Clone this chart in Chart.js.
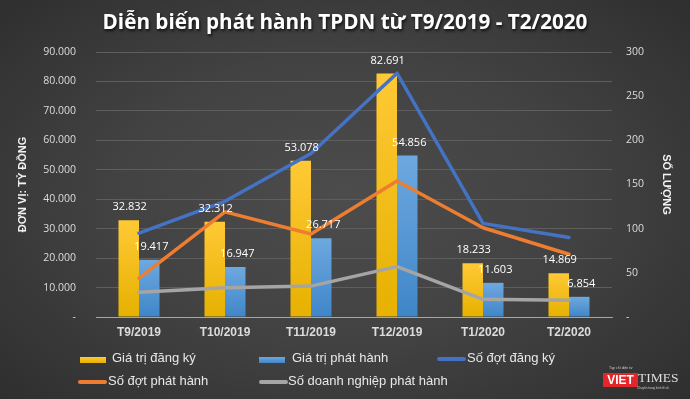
<!DOCTYPE html>
<html><head><meta charset="utf-8">
<script src="https://cdn.jsdelivr.net/npm/chart.js@4"></script>
<style>
html,body{margin:0;padding:0;}
body{width:690px;height:399px;overflow:hidden;position:relative;
 background:radial-gradient(ellipse 75% 80% at 50% 50%, #4c4c4c 0%, #424242 45%, #2b2b2b 100%);
 font-family:"Liberation Sans",Arial,sans-serif;}
canvas{position:absolute;left:0;top:0;}
#title{position:absolute;left:0;top:7px;width:690px;text-align:center;color:#fff;font:bold 20.7px "Open Sans";line-height:28px;text-shadow:1px 2px 3px rgba(0,0,0,.75);}
.lt{position:absolute;color:#e8e8e8;font-size:13px;line-height:16px;white-space:nowrap;}
.lb{position:absolute;height:6px;width:26px;}
.ll{position:absolute;height:4px;border-radius:2px;width:29px;}
</style></head>
<body>
<canvas id="c" width="690" height="399"></canvas>
<div id="title">Diễn biến phát hành TPDN từ T9/2019 - T2/2020</div>

<div class="lb" style="left:80px;top:357px;background:linear-gradient(#ffc936,#e6b100)"></div>
<div class="lt" style="left:112px;top:350px">Giá trị đăng ký</div>
<div class="lb" style="left:259px;top:357px;background:linear-gradient(#6ea8df,#3f86c8)"></div>
<div class="lt" style="left:292px;top:350px">Giá trị phát hành</div>
<div class="ll" style="left:437px;top:357px;background:#4472c4"></div>
<div class="lt" style="left:467px;top:350px">Số đợt đăng ký</div>
<div class="ll" style="left:78px;top:380px;background:#ed7d31"></div>
<div class="lt" style="left:108px;top:373px">Số đợt phát hành</div>
<div class="ll" style="left:259px;top:380px;background:#a5a5a5"></div>
<div class="lt" style="left:288px;top:373px">Số doanh nghiệp phát hành</div>

<div style="position:absolute;left:609px;top:366px;font-size:3.5px;line-height:4px;color:#ccc;white-space:nowrap">Tạp chí điện tử</div>
<div style="position:absolute;left:603px;top:373px;width:35px;height:14px;background:#e3262a;color:#fff;font:bold 12px 'Liberation Sans';line-height:14px;text-align:center">VIET</div>
<div style="position:absolute;left:638px;top:371px;color:#ddd;font:13.5px 'Liberation Serif';line-height:14px;white-space:nowrap">TIMES</div>
<div style="position:absolute;left:637px;top:386px;font-size:3px;line-height:4px;color:#ccc;white-space:nowrap">Chuyên trang kinh tế số</div>

<script>
const categories = ['T9/2019','T10/2019','T11/2019','T12/2019','T1/2020','T2/2020'];
const giaTriDangKy = [32832, 32312, 53078, 82691, 18233, 14869];
const giaTriPhatHanh = [19417, 16947, 26717, 54856, 11603, 6854];
const soDotDangKy = [95, 131, 185, 276, 106, 90];
const soDotPhatHanh = [44, 119, 94, 154, 101, 71];
const soDoanhNghiepPhatHanh = [28, 33, 35, 57, 20, 19];
const seriesNames = ['Giá trị đăng ký','Giá trị phát hành','Số đợt đăng ký','Số đợt phát hành','Số doanh nghiệp phát hành'];
const leftAxisTitle = 'ĐƠN VỊ: TỶ ĐỒNG';
const rightAxisTitle = 'SỐ LƯỢNG';

function fmt(v){ v = Number(v); if (v === 0) return '-'; return String(Math.round(v)).replace(/\B(?=(\d{3})+(?!\d))/g, '.'); }

function barGrad(top, bottom){
  return (ctx) => {
    const chart = ctx.chart; const a = chart.chartArea;
    if (!a || ctx.raw == null) return bottom;
    const y = chart.scales.y.getPixelForValue(ctx.raw);
    const g = chart.ctx.createLinearGradient(0, y, 0, a.bottom);
    g.addColorStop(0, top); g.addColorStop(1, bottom);
    return g;
  };
}

const barLabels = {
  id: 'barLabels',
  afterDatasetsDraw(chart){
    const c = chart.ctx; c.save();
    c.font = '11px "Open Sans"'; c.fillStyle = '#ffffff';
    c.textAlign = 'center'; c.textBaseline = 'middle';
    [0,1].forEach(di => {
      const meta = chart.getDatasetMeta(di);
      meta.data.forEach((el, i) => {
        c.fillText(fmt(chart.data.datasets[di].data[i]), el.x + (di === 1 ? 2 : 1), el.y - 13);
      });
    });
    c.restore();
  }
};

const tickFont = {family: 'Open Sans', size: 10.5};

new Chart(document.getElementById('c'), {
  data: {
    labels: categories,
    datasets: [
      {type:'bar', label: seriesNames[0], data: giaTriDangKy, yAxisID:'y', order:4,
       backgroundColor: barGrad('#ffc936','#e6b100'), barPercentage:1, categoryPercentage:0.477},
      {type:'bar', label: seriesNames[1], data: giaTriPhatHanh, yAxisID:'y', order:5,
       backgroundColor: barGrad('#6ea8df','#3f86c8'), barPercentage:1, categoryPercentage:0.477},
      {type:'line', label: seriesNames[2], data: soDotDangKy, yAxisID:'y1', order:3,
       borderColor:'#4472c4', borderWidth:3.5, pointRadius:0, tension:0, borderCapStyle:'round', borderJoinStyle:'round'},
      {type:'line', label: seriesNames[3], data: soDotPhatHanh, yAxisID:'y1', order:2,
       borderColor:'#ed7d31', borderWidth:3.5, pointRadius:0, tension:0, borderCapStyle:'round', borderJoinStyle:'round'},
      {type:'line', label: seriesNames[4], data: soDoanhNghiepPhatHanh, yAxisID:'y1', order:1,
       borderColor:'#a5a5a5', borderWidth:3.5, pointRadius:0, tension:0, borderCapStyle:'round', borderJoinStyle:'round'}
    ]
  },
  options: {
    responsive:false, animation:false,
    layout:{padding:{top:52, bottom:60, left:0, right:0}},
    plugins:{legend:{display:false}, tooltip:{enabled:false}, title:{display:false}},
    scales:{
      x:{
        grid:{display:false, drawTicks:false},
        border:{display:true, color:'#a6a6a6', width:1},
        ticks:{color:'#dcdcdc', font:{family:'Liberation Sans', size:12, weight:'bold'}, padding:8, maxRotation:0},
        afterFit(s){ s.height = 22; }
      },
      y:{
        position:'left', min:0, max:90000,
        ticks:{stepSize:10000, callback:fmt, color:'#dcdcdc', font:tickFont, padding:20},
        grid:{color:(ctx)=> ctx.tick && ctx.tick.value === 0 ? '#a6a6a6' : '#5e5e5e', drawTicks:false, lineWidth:1},
        border:{display:false},
        title:{display:true, text:leftAxisTitle, color:'#f2f2f2', font:{family:'Liberation Sans', size:11, weight:'bold'}, padding:{top:16, bottom:0}},
        afterFit(s){ s.width = 96; }
      },
      y1:{
        position:'right', min:0, max:300,
        ticks:{stepSize:50, callback:fmt, color:'#dcdcdc', font:tickFont, padding:14},
        grid:{display:false, drawTicks:false},
        border:{display:false},
        title:{display:true, text:rightAxisTitle, color:'#f2f2f2', font:{family:'Liberation Sans', size:11, weight:'bold'}, padding:{top:17, bottom:0}},
        afterFit(s){ s.width = 78; }
      }
    }
  },
  plugins:[barLabels]
});
</script>
</body></html>
